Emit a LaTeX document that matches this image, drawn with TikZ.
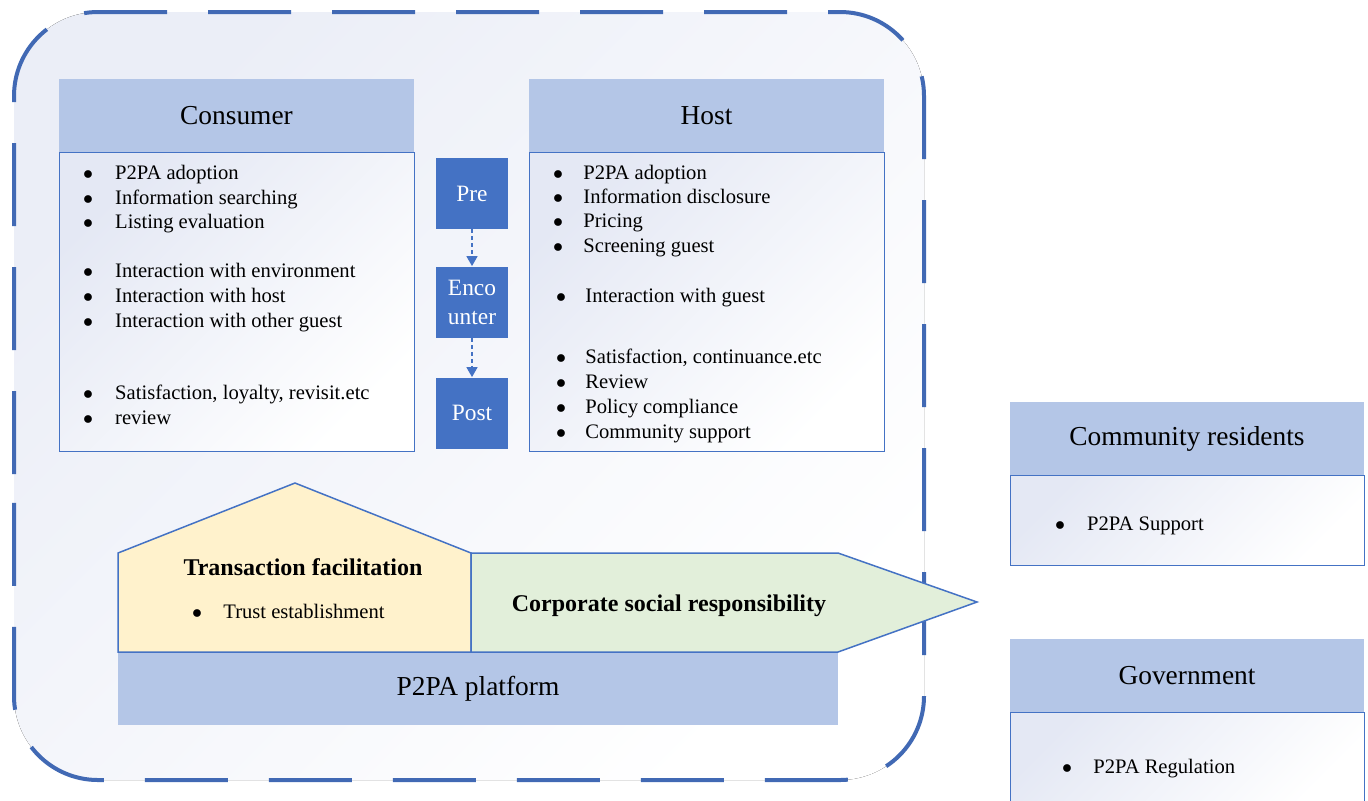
\documentclass[tikz,border=0pt]{standalone}
\usepackage{fontspec}
\setmainfont{Liberation Serif}
\usetikzlibrary{arrows.meta}

\definecolor{lineblue}{HTML}{4472C4}
\definecolor{frameblue}{HTML}{4169B4}
\definecolor{headblue}{HTML}{B4C6E7}
\definecolor{shadeblue}{HTML}{E4E8F4}
\definecolor{frameshade}{HTML}{EBEEF7}
\definecolor{tfyellow}{HTML}{FFF2CC}
\definecolor{csrgreen}{HTML}{E2EFDA}

\tikzset{
  head/.style={fill=headblue, minimum width=177.5pt, minimum height=36.5pt, inner sep=0pt, font=\fontsize{13.7}{16}\selectfont},
  listbox/.style={draw=lineblue, line width=0.5pt, top color=shadeblue, bottom color=white, shading angle=45, minimum width=177.5pt, inner sep=0pt},
  stage/.style={fill=lineblue, text=white, minimum width=36pt, minimum height=35.5pt, inner sep=0pt, align=center, font=\fontsize{11.7}{14.5}\selectfont},
  item/.style={anchor=base west, inner sep=0pt, font=\fontsize{10.3}{12}\selectfont},
  flow/.style={lineblue, dash pattern=on 2pt off 1.5pt, line width=0.75pt, -{Triangle[length=5pt,width=5.5pt]}},
  part/.style={draw=lineblue, line width=0.75pt},
  bold/.style={anchor=base, inner sep=0pt, font=\fontsize{12}{14}\selectfont\bfseries},
}
\newcommand{\bul}[1][16pt]{\makebox[#1][l]{$\bullet$}}

\begin{document}
\begin{tikzpicture}[x=0.5pt,y=-0.5pt]
\useasboundingbox (0,0) rectangle (1368,800);
\clip (0,0) rectangle (1368,800);

% Outer dashed frame
\fill[top color=frameshade, bottom color=white, shading angle=45, rounded corners=42pt] (14,12) rectangle (924,780);
\draw[frameblue, line width=2pt, dash pattern=on 41.5pt off 20.5pt, rounded corners=42pt]
  (14,558) -- (14,12) -- (924,12) -- (924,780) -- (14,780) -- cycle;

% Consumer column
\node[listbox, minimum height=149.5pt] (consbody) at (236.5,301.5) {};
\node[head] (conshead) at (236.5,115.5) {Consumer};
\node[item] (c1) at (82.8,179) {\bul P2PA adoption};
\node[item] (c2) at (82.8,204) {\bul Information searching};
\node[item] (c3) at (82.8,228) {\bul Listing evaluation};
\node[item] (c4) at (82.8,277) {\bul Interaction with environment};
\node[item] (c5) at (82.8,302) {\bul Interaction with host};
\node[item] (c6) at (82.8,327) {\bul Interaction with other guest};
\node[item] (c7) at (82.8,399) {\bul Satisfaction, loyalty, revisit.etc};
\node[item] (c8) at (82.8,424) {\bul review};

% Host column
\node[listbox, minimum height=149.5pt] (hostbody) at (706.5,301.5) {};
\node[head] (hosthead) at (706.5,115.5) {Host};
\node[item] (h1) at (552.8,179) {\bul[15.1pt]P2PA adoption};
\node[item] (h2) at (552.8,203) {\bul[15.1pt]Information disclosure};
\node[item] (h3) at (552.8,227) {\bul[15.1pt]Pricing};
\node[item] (h4) at (552.8,252) {\bul[15.1pt]Screening guest};
\node[item] (h5) at (555.8,302) {\bul[14.6pt]Interaction with guest};
\node[item] (h6) at (555.8,363) {\bul[14.6pt]Satisfaction, continuance.etc};
\node[item] (h7) at (555.8,388) {\bul[14.6pt]Review};
\node[item] (h8) at (555.8,413) {\bul[14.6pt]Policy compliance};
\node[item] (h9) at (555.8,438) {\bul[14.6pt]Community support};

% Stages
\node[stage] (pre) at (472,193.5) {Pre};
\node[stage] (enc) at (472,302) {Enco\\unter};
\node[stage] (post) at (472,413) {Post};
\draw[flow] (pre) -- (enc);
\draw[flow] (enc) -- (post);

% Platform
\draw[part, fill=tfyellow] (118,553) -- (295,483) -- (471,553) -- (471,652) -- (118,652) -- cycle;
\draw[part, fill=csrgreen] (471,553) -- (838,553) -- (977,602) -- (838,652) -- (471,652) -- cycle;
\node[fill=headblue, minimum width=360pt, minimum height=36pt, inner sep=0pt, font=\fontsize{13.7}{16}\selectfont] (platform) at (478,688.5) {P2PA platform};
\node[bold] (trans) at (303,575) {Transaction facilitation};
\node[item] (trust) at (191.8,618) {\bul[15.6pt]Trust establishment};
\node[bold] (csr) at (669,611) {Corporate social responsibility};

% Community residents
\node[listbox, minimum width=177pt, minimum height=45pt] (combody) at (1187,520) {};
\node[head, minimum width=177pt] (comhead) at (1187,438.5) {Community residents};
\node[item] (com1) at (1054.8,530) {\bul P2PA Support};

% Government
\node[listbox, minimum width=177pt, minimum height=46.5pt] (govbody) at (1187,758.5) {};
\node[head, minimum width=177pt] (govhead) at (1187,675.5) {Government};
\node[item] (gov1) at (1061.8,773) {\bul[15.6pt]P2PA Regulation};

\end{tikzpicture}
\end{document}
